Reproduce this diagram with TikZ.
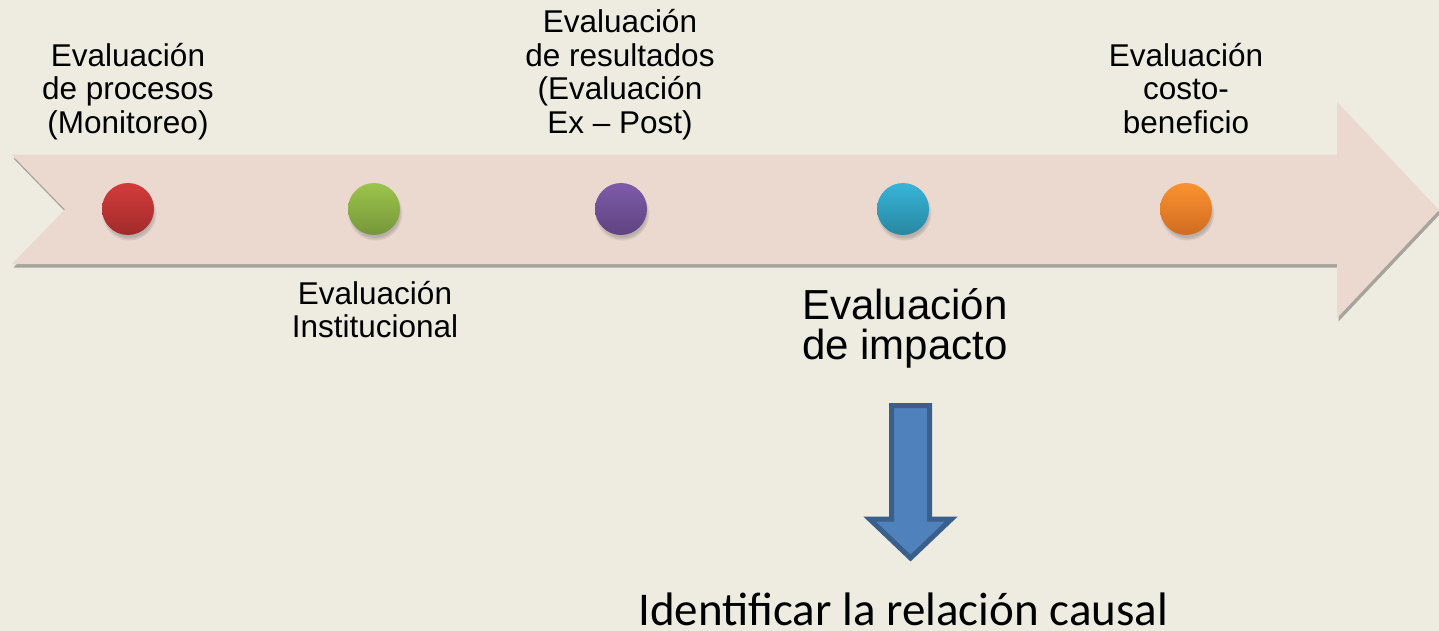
\documentclass[tikz,border=0pt]{standalone}
\usepackage{fontspec}
\setmainfont{Liberation Sans}
\newfontfamily\calibri{Carlito}
\usetikzlibrary{shadows}
\definecolor{fondo}{HTML}{EEEBE0}
\definecolor{banda}{HTML}{EBD8CF}
\definecolor{rojoA}{HTML}{D33C3B}
\definecolor{rojoB}{HTML}{A02B2A}
\definecolor{verdeA}{HTML}{9CC44C}
\definecolor{verdeB}{HTML}{76963A}
\definecolor{moradoA}{HTML}{7E5BAA}
\definecolor{moradoB}{HTML}{5F4380}
\definecolor{celesteA}{HTML}{38B4D8}
\definecolor{celesteB}{HTML}{2787A2}
\definecolor{naranjaA}{HTML}{FB9230}
\definecolor{naranjaB}{HTML}{D06C21}
\definecolor{flechaA}{HTML}{4F81BD}
\definecolor{flechaB}{HTML}{3A5F8B}

\begin{document}
\begin{tikzpicture}[x=1pt,y=-1pt,line join=miter,
    punto/.style={circle,minimum size=52pt,inner sep=0pt,
      circular drop shadow={shadow xshift=1pt,shadow yshift=-4pt,shadow scale=1.06,opacity=.45}},
    etiqueta/.style={align=center,inner sep=0pt,anchor=north,font=\fontsize{31.5}{33.5}\selectfont}]
    \useasboundingbox (0,0) rectangle (1439,631);
    \fill[fondo] (0,0) rectangle (1439,631);
    % linea de tiempo
    \fill[banda,drop shadow={shadow xshift=1.5pt,shadow yshift=-3.5pt,opacity=.3,fill=black}] (12,155) -- (1337,155) -- (1337,102) -- (1439,210) -- (1337,318) -- (1337,264) -- (12,264) -- (65,209.5) -- cycle;
    \node[punto,top color=rojoA,bottom color=rojoB] (procesos) at (128,209) {};
    \node[punto,top color=verdeA,bottom color=verdeB] (institucional) at (374,209) {};
    \node[punto,top color=moradoA,bottom color=moradoB] (resultados) at (621,209) {};
    \node[punto,top color=celesteA,bottom color=celesteB] (impacto) at (903,209) {};
    \node[punto,top color=naranjaA,bottom color=naranjaB] (costo) at (1186,209) {};
    \node[etiqueta] (lprocesos) at (128,43) {Evaluación\\de procesos\\(Monitoreo)};
    \node[etiqueta] (lresultados) at (620,9.5) {Evaluación\\de resultados\\(Evaluación\\Ex -- Post)};
    \node[etiqueta] (lcosto) at (1186,43) {Evaluación\\costo-\\beneficio};
    \node[etiqueta] (linstitucional) at (375,281) {Evaluación\\Institucional};
    \node[etiqueta,font=\fontsize{42}{40}\selectfont] (limpacto) at (905,288) {Evaluación\\de impacto};
    % flecha hacia abajo
    \draw[line width=5pt,draw=flechaB,fill=flechaA] (891.5,405.5) -- (929.5,405.5) -- (929.5,519) -- (951.5,519) -- (910.5,558) -- (869.5,519) -- (891.5,519) -- cycle;
    \node[anchor=base west,inner sep=0pt,font=\calibri\fontsize{47}{50}\selectfont] (causal) at (638,625) {Identificar la relación causal};
\end{tikzpicture}
\end{document}
